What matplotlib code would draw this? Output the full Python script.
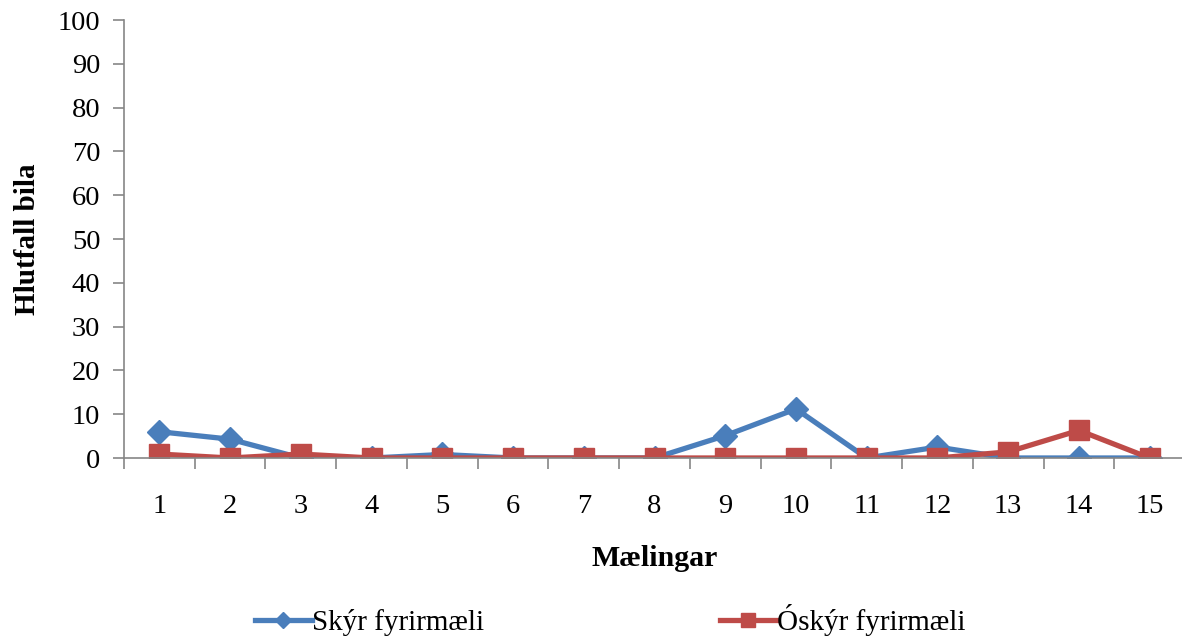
import matplotlib.pyplot as plt
from matplotlib.ticker import MultipleLocator

plt.rcParams["font.family"] = ["Liberation Serif", "DejaVu Serif"]

maelingar = list(range(1, 16))
skyr = [6.0, 4.3, 0, 0, 0.8, 0, 0, 0, 5.1, 11.2, 0, 2.5, 0, 0, 0]
oskyr = [0.9, 0, 0.9, 0, 0, 0, 0, 0, 0, 0, 0, 0, 1.4, 6.3, 0]

BLUE = "#4a7ebb"
RED = "#be4b48"
GREY = "#868686"

fig = plt.figure(figsize=(11.82, 6.37), dpi=100)
ax = fig.add_axes([124 / 1182, 1 - 458 / 637, (1185 - 124) / 1182, (458 - 20) / 637])

ax.plot(maelingar, skyr, color=BLUE, lw=3.8, marker="D", ms=12, label="Skýr fyrirmæli")
ax.plot(maelingar, oskyr, color=RED, lw=3.8, marker="s", ms=14, label="Óskýr fyrirmæli")

ax.set_xlim(0.5, 15.5)
ax.set_ylim(0, 100)
ax.yaxis.set_major_locator(MultipleLocator(10))
ax.set_xticks(maelingar)
ax.set_xticks([x + 0.5 for x in range(0, 15)], minor=True)
ax.tick_params(axis="x", which="major", length=0, pad=26, labelsize=20.5)
ax.tick_params(axis="x", which="minor", length=8, color=GREY, width=1.2)
ax.tick_params(axis="y", length=8, color=GREY, width=1.2, labelsize=20.5, pad=9)

for s in ["top", "right"]:
    ax.spines[s].set_visible(False)
ax.spines["left"].set_color(GREY)
ax.spines["bottom"].set_color(GREY)
ax.spines["left"].set_linewidth(1.2)
ax.spines["bottom"].set_linewidth(1.2)

ax.set_ylabel("Hlutfall bila", fontsize=21, fontweight="bold", labelpad=12)
ax.set_xlabel("Mælingar", fontsize=21.5, fontweight="bold", labelpad=19)

fig.legend(loc="center", bbox_to_anchor=(610 / 1182, 1 - 620 / 637), bbox_transform=fig.transFigure,
           ncol=2, frameon=False, fontsize=21, handlelength=1.95, handletextpad=0.0,
           columnspacing=8.1, markerscale=0.7, borderpad=0, borderaxespad=0)

fig.savefig("out.png", dpi=100)
